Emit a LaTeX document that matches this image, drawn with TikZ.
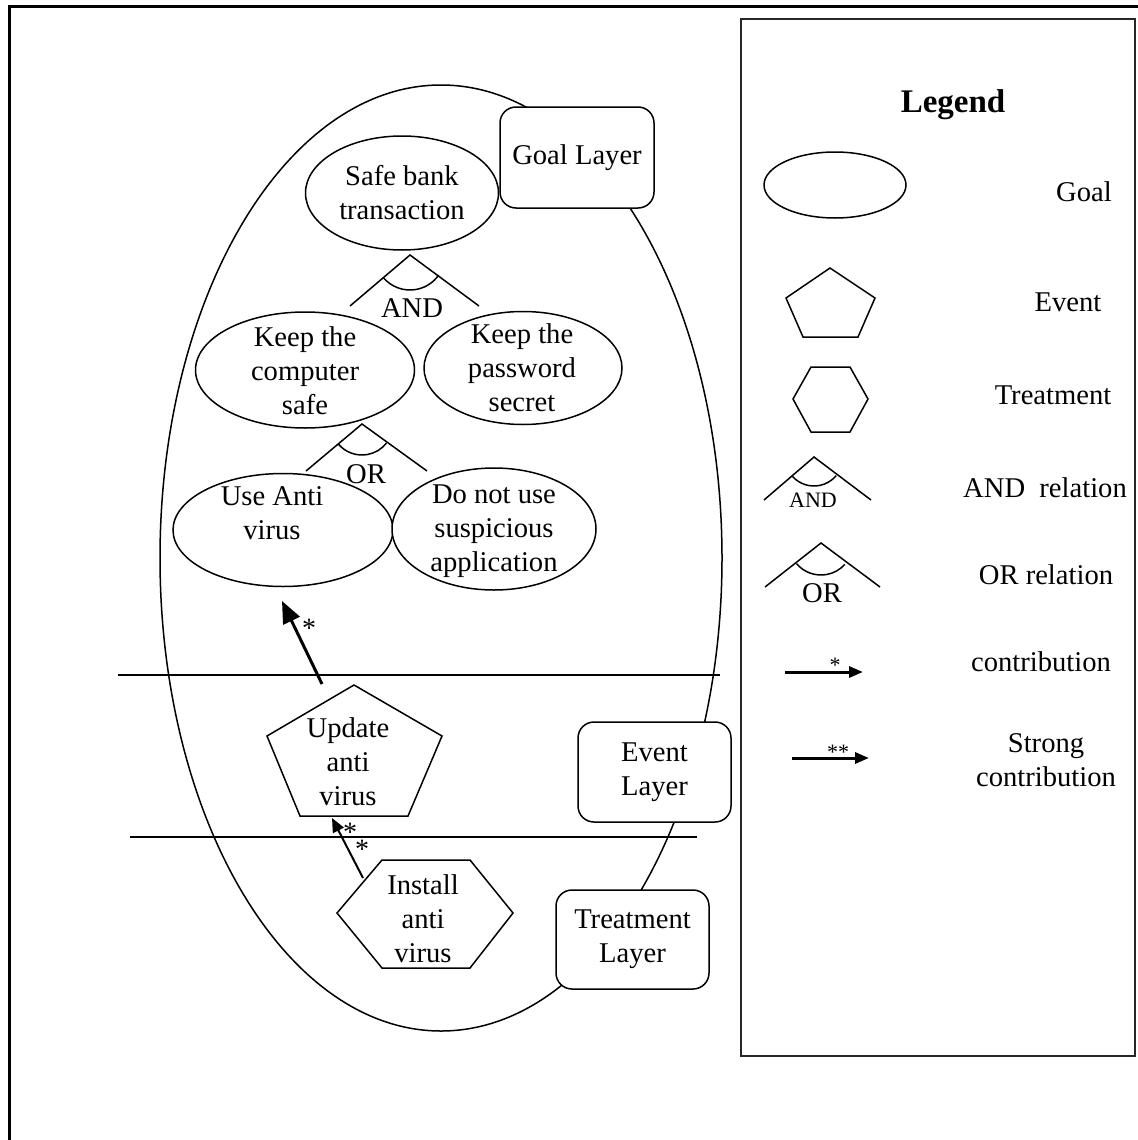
\documentclass[tikz,border=0pt]{standalone}
\usepackage{fontspec}
\setmainfont{Liberation Serif}
\usetikzlibrary{shapes.geometric,arrows.meta}
\begin{document}
\begin{tikzpicture}[x=0.5pt,y=-0.5pt,
  every node/.style={font=\fontsize{14.3}{17}\selectfont},
  lbl/.style={align=center,inner sep=0pt},
  goal/.style={draw,ellipse,line width=0.75pt,inner sep=0pt,fill=white},
  layerbox/.style={draw,rounded corners=8pt,line width=0.75pt,fill=white,align=center,inner sep=0pt},
  shp/.style={line width=0.75pt},
  rel/.style={line width=0.75pt},
  star/.style={inner sep=0pt,font=\fontsize{14}{14}\selectfont},
  smallstar/.style={inner sep=0pt,font=\fontsize{11}{11}\selectfont},
  contrib/.style={line width=1.5pt,-{Triangle[length=11pt,width=9pt]}},
  contribthin/.style={line width=1pt,-{Triangle[length=7pt,width=6pt]}},
  legarrow/.style={line width=1.5pt,-{Triangle[length=7pt,width=5.5pt]}}
]
\useasboundingbox (0,0) rectangle (1138,1140);
% outer frame
\draw[line width=1.5pt] (9,1150) -- (9,6) -- (1150,6);
% legend box
\draw[line width=1pt,draw=black!85] (741,19) rectangle (1135,1056);

% big ellipse
\node[draw,ellipse,line width=0.75pt,inner sep=0pt,minimum width=281pt,minimum height=473pt] (big) at (441,558) {};

% layer boxes
\node[layerbox,minimum width=77pt,minimum height=50.5pt] (gl) at (577,157.5) {Goal Layer};
\node[layerbox,minimum width=76.5pt,minimum height=50pt] (el) at (654.5,772) {Event\\Layer};
\node[layerbox,minimum width=76.5pt,minimum height=49.5pt] (tl) at (632.5,939.5) {Treatment\\Layer};

% layer separators
\coordinate (s1a) at (118,675); \coordinate (s1b) at (720,675);
\coordinate (s2a) at (130,837); \coordinate (s2b) at (697,837);
\draw[line width=0.75pt] (s1a) -- (s1b);
\draw[line width=0.75pt] (s2a) -- (s2b);

% goals
\node[goal,minimum width=96.5pt,minimum height=57pt] (sbt) at (402,193) {};
\node[lbl] (sbtt) at (402,193) {Safe bank\\transaction};
\node[goal,minimum width=109.5pt,minimum height=58pt] (kcs) at (305,370) {};
\node[lbl] (kcst) at (305,371) {Keep the\\computer\\safe};
\node[goal,minimum width=99pt,minimum height=56.5pt] (kps) at (523,368) {};
\node[lbl] (kpst) at (522,368) {Keep the\\password\\secret};
\node[goal,minimum width=110pt,minimum height=56.5pt] (uav) at (283,530) {};
\node[lbl] (uavt) at (272,513) {Use Anti\\virus};
\node[goal,minimum width=102pt,minimum height=61pt] (dnu) at (494,529) {};
\node[lbl] (dnut) at (494,531) {Do not use\\suspicious\\application};

% AND relation
\coordinate (andap) at (410,255);
\draw[rel] (350,306) -- (andap) -- (479,306);
\draw[rel] (andap) ++(140:35) arc[start angle=140,end angle=35,radius=35];
\node[lbl] (andl) at (412,308) {AND};

% OR relation
\coordinate (orap) at (362,424);
\draw[rel] (306,471) -- (orap) -- (427,471);
\draw[rel] (orap) ++(140:31) arc[start angle=140,end angle=38,radius=31];
\node[lbl] (orl) at (366,474) {OR};

% event pentagon
\coordinate (p1) at (354,685); \coordinate (p2) at (442,736);
\coordinate (p3) at (408,816); \coordinate (p4) at (300,816);
\coordinate (p5) at (267,736);
\draw[shp] (p1) -- (p2) -- (p3) -- (p4) -- (p5) -- cycle;
\node[lbl] (upd) at (348,762) {Update\\anti\\virus};

% treatment hexagon
\coordinate (h1) at (337,913); \coordinate (h2) at (382,860);
\coordinate (h3) at (470,860); \coordinate (h4) at (513,913);
\coordinate (h5) at (470,968); \coordinate (h6) at (382,968);
\draw[shp] (h1) -- (h2) -- (h3) -- (h4) -- (h5) -- (h6) -- cycle;
\node[lbl] (ins) at (423,919) {Install\\anti\\virus};

% contributions
\coordinate (c1s) at (322,684); \coordinate (c1e) at (282,601);
\draw[contrib] (c1s) -- (c1e);
\node[star] (c1star) at (309,628) {*};
\coordinate (c2s) at (363,878); \coordinate (c2e) at (332,818);
\draw[contribthin] (c2s) -- (c2e);
\node[star] (c2star1) at (350,832) {*};
\node[star] (c2star2) at (362,849) {*};

% legend
\node[inner sep=0pt,font=\fontsize{16.5}{20}\selectfont\bfseries] (legt) at (953,105) {Legend};

\node[goal,minimum width=71pt,minimum height=33pt] (lgoal) at (835,185) {};
\node[lbl] (lgoalt) at (1084,192) {Goal};

\coordinate (lp1) at (830,268); \coordinate (lp2) at (875,298);
\coordinate (lp3) at (858,337); \coordinate (lp4) at (803,337);
\coordinate (lp5) at (786,298);
\draw[shp] (lp1) -- (lp2) -- (lp3) -- (lp4) -- (lp5) -- cycle;
\node[lbl] (levt) at (1068,302) {Event};

\coordinate (lh1) at (793,399); \coordinate (lh2) at (811,367);
\coordinate (lh3) at (850,367); \coordinate (lh4) at (868,399);
\coordinate (lh5) at (850,432); \coordinate (lh6) at (811,432);
\draw[shp] (lh1) -- (lh2) -- (lh3) -- (lh4) -- (lh5) -- (lh6) -- cycle;
\node[lbl] (ltrt) at (1053,395) {Treatment};

\coordinate (landap) at (814,457);
\draw[rel] (764,500) -- (landap) -- (871,500);
\draw[rel] (landap) ++(138:29) arc[start angle=138,end angle=40,radius=29];
\node[lbl,font=\fontsize{11}{11}\selectfont] (landl) at (813,500) {AND};
\node[lbl] (landt) at (1045,488) {AND\ \ relation};

\coordinate (lorap) at (821,543);
\draw[rel] (765,587) -- (lorap) -- (880,587);
\draw[rel] (lorap) ++(140:32) arc[start angle=140,end angle=42,radius=32];
\node[lbl] (lorl) at (822,593) {OR};
\node[lbl] (lort) at (1046,575) {OR relation};

\coordinate (la1s) at (785,672); \coordinate (la1e) at (863,672);
\draw[legarrow] (la1s) -- (la1e);
\node[smallstar] (la1star) at (835,665) {*};
\node[lbl] (la1t) at (1041,662) {contribution};

\coordinate (la2s) at (792,758); \coordinate (la2e) at (869,758);
\draw[legarrow] (la2s) -- (la2e);
\node[smallstar] (la2star) at (838,752) {**};
\node[lbl] (la2t) at (1046,760) {Strong\\contribution};
\end{tikzpicture}
\end{document}
